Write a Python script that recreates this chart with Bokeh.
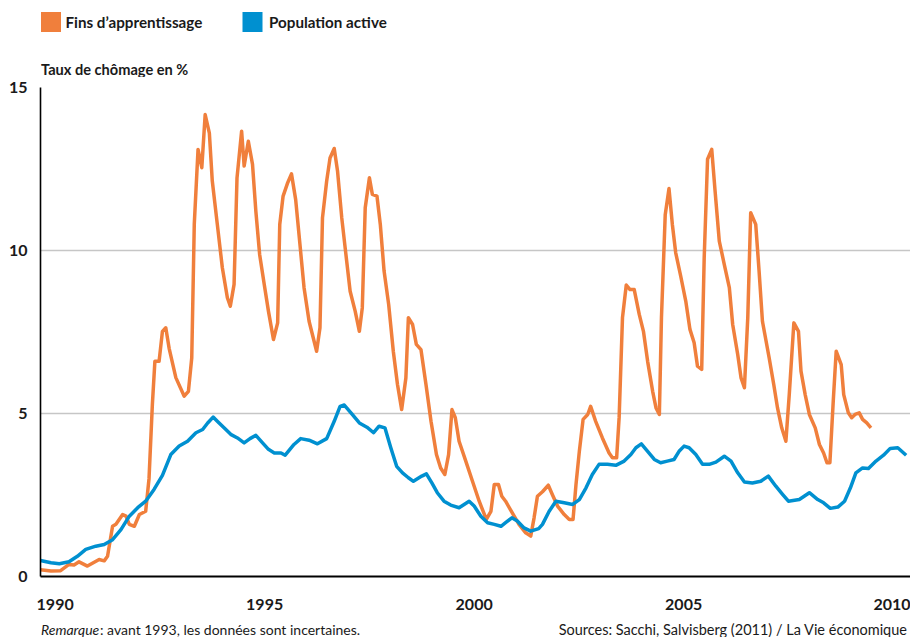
from bokeh.plotting import figure
from bokeh.layouts import column
from bokeh.models import Range1d, FixedTicker, CustomJSTickFormatter
from bokeh.core.properties import value
from bokeh.embed import file_html
from bokeh.resources import INLINE

# ---------------- data ----------------
orange_t = [1990.00, 1990.25, 1990.48, 1990.68, 1990.80, 1990.92, 1991.12, 1991.40, 1991.52, 1991.60,
            1991.72, 1991.80, 1991.96, 1992.04, 1992.12, 1992.24, 1992.36, 1992.51, 1992.59, 1992.67,
            1992.73, 1992.83, 1992.91, 1992.99, 1993.07, 1993.23, 1993.43, 1993.53, 1993.61, 1993.67,
            1993.76, 1993.85, 1993.93, 1994.03, 1994.10, 1994.22, 1994.34, 1994.46, 1994.53, 1994.62,
            1994.69, 1994.80, 1994.86, 1994.96, 1995.06, 1995.14, 1995.23, 1995.34, 1995.44, 1995.56,
            1995.66, 1995.71, 1995.79, 1995.90, 1995.99, 1996.09, 1996.20, 1996.29, 1996.41, 1996.59,
            1996.67, 1996.73, 1996.83, 1996.91, 1997.01, 1997.09, 1997.19, 1997.28, 1997.39, 1997.51,
            1997.61, 1997.68, 1997.75, 1997.85, 1997.92, 1998.03, 1998.11, 1998.20, 1998.31, 1998.42,
            1998.52, 1998.62, 1998.72, 1998.78, 1998.88, 1998.97, 1999.08, 1999.20, 1999.32, 1999.45,
            1999.55, 1999.65, 1999.74, 1999.82, 1999.90, 1999.99, 2000.15, 2000.31, 2000.47, 2000.64,
            2000.75, 2000.83, 2000.93, 2001.01, 2001.10, 2001.26, 2001.42, 2001.58, 2001.70, 2001.78,
            2001.86, 2001.98, 2002.12, 2002.22, 2002.34, 2002.50, 2002.62, 2002.71, 2002.78, 2002.86,
            2002.95, 2003.06, 2003.13, 2003.25, 2003.41, 2003.57, 2003.65, 2003.75, 2003.81, 2003.89,
            2003.98, 2004.07, 2004.17, 2004.29, 2004.39, 2004.49, 2004.61, 2004.69, 2004.77, 2004.82,
            2004.91, 2005.00, 2005.08, 2005.16, 2005.28, 2005.40, 2005.50, 2005.60, 2005.68, 2005.78,
            2005.84, 2005.92, 2006.02, 2006.10, 2006.20, 2006.32, 2006.44, 2006.52, 2006.64, 2006.72,
            2006.80, 2006.88, 2006.95, 2007.07, 2007.15, 2007.23, 2007.39, 2007.50, 2007.59, 2007.69,
            2007.79, 2007.87, 2007.98, 2008.09, 2008.15, 2008.25, 2008.35, 2008.49, 2008.59, 2008.69,
            2008.77, 2008.84, 2008.92, 2008.99, 2009.11, 2009.17, 2009.28, 2009.36, 2009.44, 2009.54,
            2009.62, 2009.72, 2009.82]
orange_v = [0.21, 0.17, 0.18, 0.37, 0.35, 0.45, 0.32, 0.52, 0.48, 0.62,
            1.54, 1.60, 1.90, 1.85, 1.60, 1.54, 1.90, 2.00, 3.00, 5.28,
            6.60, 6.60, 7.52, 7.63, 7.00, 6.10, 5.53, 5.68, 6.71, 10.80,
            13.10, 12.54, 14.17, 13.60, 12.13, 10.80, 9.47, 8.55, 8.29, 8.96,
            12.23, 13.66, 12.59, 13.35, 12.64, 11.20, 9.88, 8.96, 8.14, 7.27,
            7.78, 10.80, 11.67, 12.08, 12.35, 11.56, 10.08, 8.86, 7.83, 6.91,
            7.63, 11.00, 12.13, 12.84, 13.13, 12.43, 11.00, 9.98, 8.75, 8.14,
            7.52, 8.24, 11.31, 12.23, 11.72, 11.67, 10.80, 9.37, 8.34, 6.91,
            5.89, 5.12, 6.09, 7.94, 7.73, 7.12, 6.96, 5.89, 4.76, 3.74,
            3.33, 3.13, 3.74, 5.12, 4.87, 4.15, 3.54, 2.92, 2.31, 1.75,
            2.00, 2.82, 2.82, 2.46, 2.31, 1.95, 1.60, 1.34, 1.24, 1.80,
            2.46, 2.60, 2.80, 2.50, 2.16, 1.90, 1.75, 1.75, 2.82, 3.84,
            4.82, 4.97, 5.22, 4.76, 4.25, 3.79, 3.64, 3.64, 4.88, 7.94,
            8.94, 8.80, 8.80, 8.04, 7.52, 6.60, 5.68, 5.17, 4.97, 7.94,
            11.10, 11.90, 10.80, 9.93, 9.21, 8.45, 7.58, 7.17, 6.45, 6.35,
            9.78, 12.80, 13.10, 11.82, 10.29, 9.57, 8.86, 7.73, 6.81, 6.09,
            5.79, 7.94, 11.16, 10.80, 9.37, 7.83, 6.71, 5.89, 5.17, 4.56,
            4.15, 5.58, 7.78, 7.52, 6.30, 5.58, 4.97, 4.56, 4.05, 3.79,
            3.49, 3.49, 5.38, 6.91, 6.50, 5.58, 5.02, 4.87, 4.97, 5.02,
            4.82, 4.71, 4.56]

blue_t = [1990.00, 1990.25, 1990.45, 1990.68, 1990.88, 1991.08, 1991.32, 1991.52, 1991.72, 1991.92,
          1992.12, 1992.32, 1992.51, 1992.71, 1992.91, 1993.11, 1993.31, 1993.51, 1993.71, 1993.87,
          1993.99, 1994.12, 1994.22, 1994.38, 1994.54, 1994.70, 1994.86, 1995.00, 1995.14, 1995.30,
          1995.44, 1995.58, 1995.74, 1995.84, 1996.05, 1996.21, 1996.41, 1996.61, 1996.83, 1997.01,
          1997.15, 1997.25, 1997.41, 1997.61, 1997.79, 1997.95, 1998.08, 1998.22, 1998.36, 1998.50,
          1998.64, 1998.78, 1998.90, 1999.10, 1999.21, 1999.34, 1999.47, 1999.63, 1999.79, 1999.99,
          2000.11, 2000.23, 2000.35, 2000.51, 2000.67, 2000.83, 2000.99, 2001.10, 2001.25, 2001.38,
          2001.54, 2001.70, 2001.89, 2001.98, 2002.14, 2002.30, 2002.50, 2002.70, 2002.86, 2003.02,
          2003.17, 2003.33, 2003.53, 2003.73, 2003.93, 2004.09, 2004.21, 2004.34, 2004.49, 2004.65,
          2004.80, 2004.96, 2005.12, 2005.24, 2005.36, 2005.48, 2005.64, 2005.80, 2005.96, 2006.12,
          2006.32, 2006.48, 2006.64, 2006.80, 2006.99, 2007.19, 2007.37, 2007.55, 2007.71, 2007.85,
          2008.11, 2008.35, 2008.55, 2008.69, 2008.85, 2009.03, 2009.19, 2009.33, 2009.46, 2009.62,
          2009.76, 2009.94, 2010.12, 2010.28, 2010.46, 2010.66]
blue_v = [0.49, 0.42, 0.39, 0.45, 0.62, 0.83, 0.93, 0.98, 1.13, 1.44,
          1.85, 2.11, 2.31, 2.67, 3.10, 3.74, 4.00, 4.15, 4.41, 4.51,
          4.71, 4.89, 4.76, 4.56, 4.36, 4.25, 4.10, 4.23, 4.33, 4.10,
          3.90, 3.79, 3.79, 3.72, 4.05, 4.23, 4.18, 4.07, 4.23, 4.76,
          5.22, 5.26, 5.02, 4.71, 4.58, 4.41, 4.61, 4.56, 3.95, 3.38,
          3.18, 3.03, 2.92, 3.08, 3.15, 2.87, 2.57, 2.31, 2.19, 2.11,
          2.21, 2.31, 2.16, 1.85, 1.65, 1.60, 1.54, 1.65, 1.80, 1.70,
          1.49, 1.39, 1.47, 1.60, 2.00, 2.31, 2.26, 2.21, 2.36, 2.72,
          3.13, 3.44, 3.44, 3.41, 3.54, 3.74, 3.95, 4.07, 3.84, 3.59,
          3.49, 3.54, 3.59, 3.84, 4.00, 3.95, 3.74, 3.44, 3.44, 3.51,
          3.69, 3.54, 3.18, 2.90, 2.87, 2.92, 3.08, 2.77, 2.52, 2.31,
          2.36, 2.57, 2.36, 2.26, 2.09, 2.13, 2.31, 2.72, 3.18, 3.33,
          3.31, 3.54, 3.72, 3.93, 3.95, 3.72]

year_ticks = [1990, 1995, 2000, 2005, 2010]
value_ticks = [0, 5, 10, 15]
legend_labels = ["Fins d\u2019apprentissage", "Population active"]
y_title = "Taux de ch\u00f4mage en %"
note_italic = "Remarque"
note_rest = ": avant 1993, les donn\u00e9es sont incertaines."
source_text = "Sources: Sacchi, Salvisberg (2011) / La Vie \u00e9conomique"

# ---------------- styling ----------------
ORANGE = "#F07F3C"
BLUE = "#0090D0"
TXT = "#1a1a1a"
FONT = "Lato"
LABEL_SHIFT = 0.35   # year labels start at the tick, not centred on it
W = 910
FL = 40                # left border shared by all (frames are aligned in the column)


def blank_panel(height):
    """A figure whose x data equal canvas pixels (frame aligned at FL), y downwards."""
    f = figure(width=W, height=height, output_backend="svg", toolbar_location=None,
               x_range=Range1d(FL, W), y_range=Range1d(height, 0),
               x_axis_type=None, y_axis_type=None, min_border=0,
               min_border_left=FL)
    f.outline_line_color = None
    f.xgrid.visible = False
    f.ygrid.visible = False
    f.background_fill_color = "white"
    f.border_fill_color = "white"
    return f


# ---------------- header: legend + axis title ----------------
TOP_H = 77
top = blank_panel(TOP_H)
top.rect(x=[50.5, 252], y=[21.5, 21.5], width=20, height=20,
         fill_color=[ORANGE, BLUE], line_color=None)
top.text(x=[65, 268.5], y=[21.5, 21.5], text=legend_labels,
         text_font=value(FONT), text_font_size="15.2px", text_font_style="bold",
         text_baseline="middle", text_align="left", text_color=TXT)
top.text(x=[40.5], y=[68.5], text=[y_title],
         text_font=value(FONT), text_font_size="14.6px", text_font_style="bold",
         text_baseline="middle", text_align="left", text_color=TXT)

# ---------------- main chart ----------------
FT, FB = 10, 37
FRAME_W = W - FL
FRAME_H = 489
MAIN_H = FT + FRAME_H + FB
X0, X1 = 1990, 1990 + FRAME_W / 41.9

p = figure(width=W, height=MAIN_H, output_backend="svg", toolbar_location=None,
           x_range=Range1d(X0, X1), y_range=Range1d(0, 15),
           min_border_left=FL, min_border_right=0, min_border_top=FT,
           min_border_bottom=FB)
p.outline_line_color = None
p.background_fill_color = "white"
p.border_fill_color = "white"

p.xgrid.visible = False
p.ygrid.ticker = FixedTicker(ticks=value_ticks)
p.ygrid.grid_line_color = "#c6c6c6"
p.ygrid.grid_line_width = 1.4

p.yaxis.ticker = FixedTicker(ticks=value_ticks)
p.yaxis.axis_line_color = "black"
p.yaxis.axis_line_width = 1.6
p.yaxis.major_tick_line_color = None
p.yaxis.minor_tick_line_color = None
p.yaxis.major_label_standoff = 7
p.yaxis.major_label_text_font = FONT
p.yaxis.major_label_text_font_size = "16px"
p.yaxis.major_label_text_font_style = "bold"
p.yaxis.major_label_text_color = TXT

p.xaxis.ticker = FixedTicker(ticks=[y + LABEL_SHIFT for y in year_ticks])
p.xaxis.formatter = CustomJSTickFormatter(code="return String(Math.round(tick - %s))" % LABEL_SHIFT)
p.xaxis.axis_line_color = "black"
p.xaxis.axis_line_width = 2
p.xaxis.major_tick_line_color = None
p.xaxis.minor_tick_line_color = None
p.xaxis.major_label_standoff = 16
p.xaxis.major_label_text_font = FONT
p.xaxis.major_label_text_font_size = "16px"
p.xaxis.major_label_text_font_style = "bold"
p.xaxis.major_label_text_color = TXT

p.line(orange_t, orange_v, line_color=ORANGE, line_width=3.5, line_join="round")
p.line(blue_t, blue_v, line_color=BLUE, line_width=3.5, line_join="round")

# ---------------- footer: notes ----------------
BOT_H = 24
bot = blank_panel(BOT_H)
bot.text(x=[40.5], y=[16], text=[note_italic],
         text_font=value(FONT), text_font_size="14px", text_font_style="italic",
         text_baseline="middle", text_align="left", text_color=TXT)
bot.text(x=[99.5], y=[16], text=[note_rest],
         text_font=value(FONT), text_font_size="14px",
         text_baseline="middle", text_align="left", text_color=TXT)
bot.text(x=[907], y=[16], text=[source_text],
         text_font=value(FONT), text_font_size="14.5px",
         text_baseline="middle", text_align="right", text_color=TXT)

layout = column(top, p, bot, spacing=0)
open("out.html", "w").write(file_html(layout, INLINE))
